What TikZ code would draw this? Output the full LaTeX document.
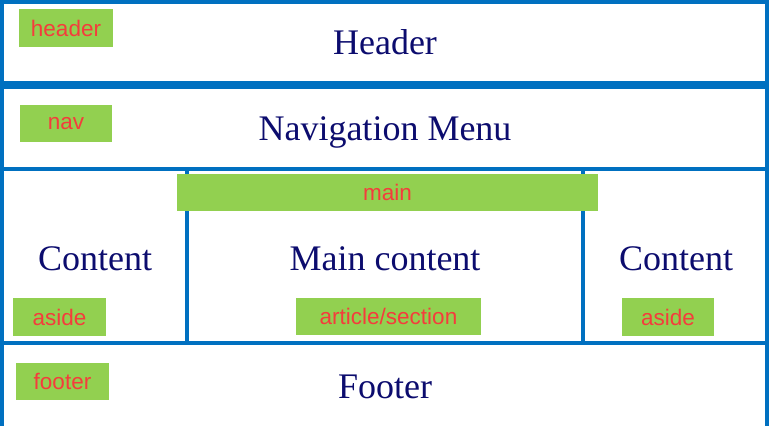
\documentclass[tikz,border=0pt]{standalone}
\usepackage{fontspec}
\setmainfont{Liberation Serif}
\newfontfamily\tagfont{Liberation Sans}
\definecolor{frameblue}{RGB}{0,112,192}
\definecolor{navy}{RGB}{12,12,110}
\definecolor{taggreen}{RGB}{146,208,80}
\definecolor{tagred}{RGB}{245,60,60}
\tikzset{
    %Boxes and labels of the page layout
    frame/.style={draw=frameblue, line width=2.2pt},
    tag/.style={fill=taggreen, text=tagred, inner sep=0pt,
        font=\tagfont\fontsize{16}{18}\selectfont},
    title/.style={text=navy, anchor=base, inner sep=0pt,
        font=\fontsize{25.6}{30}\selectfont}
}
\begin{document}
\begin{tikzpicture}[x=0.025cm,y=-0.025cm]
    \useasboundingbox (0,0) rectangle (770,426);
    \clip (0,0) rectangle (770,426);

    % rows
    \draw[frame] (2,2) rectangle (767,83);
    \draw[frame] (2,87) rectangle (767,169);
    \draw[frame] (2,169) rectangle (767,343);
    \draw[frame] (2,343) rectangle (767,440);
    \draw[frame] (187,169) -- (187,343);
    \draw[frame] (583,169) -- (583,343);

    % element tags
    \node[tag, minimum width=2.35cm, minimum height=0.95cm] (headertag) at (66,28) {header};
    \node[tag, minimum width=2.3cm, minimum height=0.93cm] (navtag) at (66,123.5) {nav};
    \node[tag, minimum width=10.53cm, minimum height=0.93cm] (maintag) at (387.5,192.5) {main};
    \node[tag, minimum width=2.33cm, minimum height=0.95cm] (asidel) at (59.5,317) {aside};
    \node[tag, minimum width=4.63cm, minimum height=0.93cm] (articletag) at (388.5,316.5) {article/section};
    \node[tag, minimum width=2.3cm, minimum height=0.95cm] (asider) at (668,317) {aside};
    \node[tag, minimum width=2.33cm, minimum height=0.93cm] (footertag) at (62.5,381.5) {footer};

    % titles
    \node[title] (header) at (385,55) {Header};
    \node[title] (nav) at (385,141) {Navigation Menu};
    \node[title] (contentl) at (95,270) {Content};
    \node[title] (maincontent) at (385,270) {Main content};
    \node[title] (contentr) at (676,270) {Content};
    \node[title] (footer) at (385,398) {Footer};
\end{tikzpicture}
\end{document}
